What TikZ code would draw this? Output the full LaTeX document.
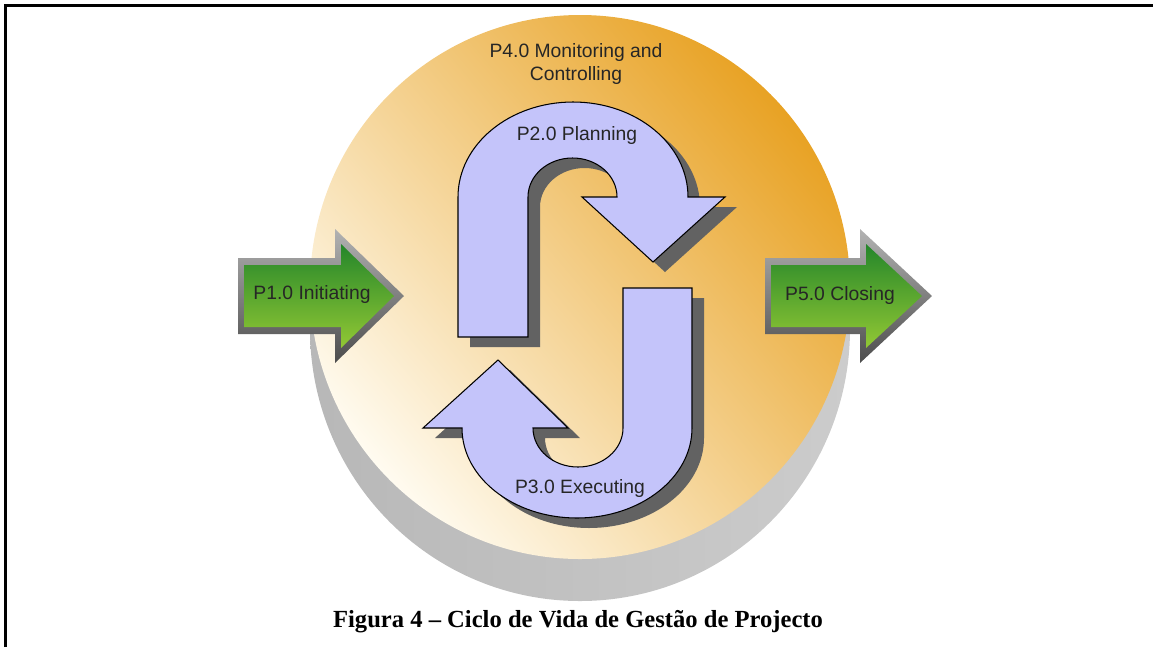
\documentclass[tikz,border=0pt]{standalone}
\usepackage{fontspec}
\setmainfont{Liberation Sans}
\newfontfamily\captionfont{Liberation Serif}
\usepackage{tikz}
\usetikzlibrary{positioning}
\definecolor{discdark}{RGB}{232,162,36}
\definecolor{discmid}{RGB}{243,204,128}
\definecolor{disclight}{RGB}{255,251,240}
\definecolor{flowblue}{RGB}{196,196,250}
\definecolor{flowshadow}{RGB}{98,98,98}
\definecolor{stepdark}{RGB}{36,134,42}
\definecolor{steplight}{RGB}{146,200,52}
\tikzstyle{phase} = [font=\fontsize{11}{13.6}\selectfont, text=black!85]
\tikzstyle{flow} = [draw=black, line width=0.6pt, fill=flowblue]
\tikzstyle{flowshade} = [fill=flowshadow, shift={(12,10)}]
\tikzstyle{bevel} = [top color=black!30, bottom color=black!70]
\tikzstyle{stepfill} = [top color=stepdark, bottom color=steplight]
%% outlines of the two bent arrows
\newcommand{\planningpath}{(458,337) -- (458,197)
  arc[start angle=180, end angle=360, x radius=115, y radius=95]
  -- (725,197) -- (653,262) -- (582,197) -- (617,197)
  arc[start angle=360, end angle=180, x radius=44.5, y radius=39]
  -- (528,337) -- cycle}
\newcommand{\executingpath}{(623,288) -- (692,288) -- (692,428)
  arc[start angle=0, end angle=180, x radius=115, y radius=90]
  -- (423,428) -- (498,360) -- (568,428) -- (533,428)
  arc[start angle=180, end angle=0, x radius=45, y radius=39]
  -- cycle}

\begin{document}
\begin{tikzpicture}[x=0.02cm, y=-0.02cm]
    \useasboundingbox (0,0) rectangle (1153,647);
    \draw [line width=1.5pt] (5.5,647) -- (5.5,5.5) -- (1153,5.5);
    %% Disc
    \shade [left color=black!28, middle color=black!48, right color=black!20] (580,329) circle [x radius=270, y radius=272];
    \shade [left color=disclight, middle color=discmid, right color=discdark, shading angle=130] (580,287) circle [x radius=270, y radius=272];
    %% Green arrows
    \shade [bevel] (238,258) -- (335,258) -- (335,229) -- (404,296) -- (335,363) -- (335,334) -- (238,334) -- cycle;
    \shade [stepfill] (244,265) -- (341,265) -- (341,244) -- (394,296) -- (341,348) -- (341,327) -- (244,327) -- cycle;
    \shade [bevel] (765,258) -- (860,258) -- (860,229) -- (932,296) -- (860,363) -- (860,334) -- (765,334) -- cycle;
    \shade [stepfill] (771,265) -- (866,265) -- (866,244) -- (922,296) -- (866,348) -- (866,327) -- (771,327) -- cycle;
    %% Bent arrows
    \fill [flowshade] \planningpath;
    \fill [flowshade] \executingpath;
    \path [flow] \planningpath;
    \path [flow] \executingpath;
    %% Labels
    \node [phase, align=center] (P4) at (576,64) {P4.0 Monitoring and\\Controlling};
    \node [phase] (P2) at (577,135) {P2.0 Planning};
    \node [phase] (P3) at (580,488) {P3.0 Executing};
    \node [phase] (P1) at (312,294) {P1.0 Initiating};
    \node [phase] (P5) at (840,295) {P5.0 Closing};
    \node [font=\captionfont\bfseries\fontsize{14}{16}\selectfont] (caption) at (578,622) {Figura 4 – Ciclo de Vida de Gestão de Projecto};
\end{tikzpicture}
\end{document}
